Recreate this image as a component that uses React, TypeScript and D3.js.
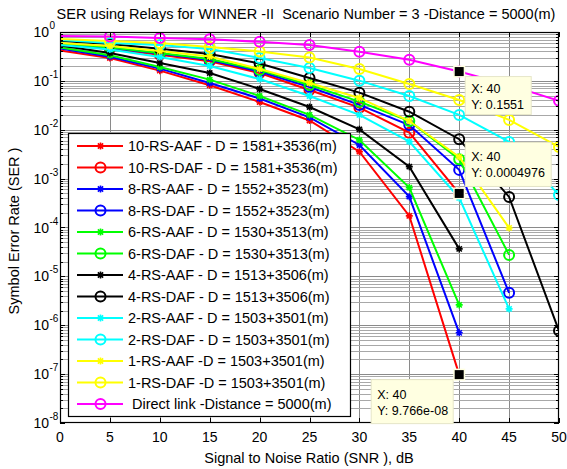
import React from "react";
import * as d3 from "d3";

const snr = [0, 5, 10, 15, 20, 25, 30, 35, 40, 45, 50];

const rs10AAF = [0.419, 0.294, 0.162, 0.0813, 0.037, 0.0155, 0.00356, 1.73e-4, 9.766e-8];
const rs10DAF = [0.55, 0.449, 0.343, 0.252, 0.145, 0.0652, 0.0283, 0.00873, 4.976e-4];
const rs8AAF = [0.46, 0.313, 0.178, 0.0906, 0.0437, 0.0179, 0.00489, 4.28e-4, 7.0e-7];
const rs8DAF = [0.568, 0.471, 0.363, 0.267, 0.156, 0.075, 0.0322, 0.0125, 0.00151, 4.6e-6];
const rs6AAF = [0.482, 0.334, 0.192, 0.106, 0.0491, 0.0201, 0.00618, 6.55e-4, 2.61e-6];
const rs6DAF = [0.582, 0.482, 0.372, 0.281, 0.167, 0.0824, 0.0376, 0.0151, 0.00249, 2.75e-5];
const rs4AAF = [0.53, 0.372, 0.232, 0.145, 0.0683, 0.0292, 0.0102, 0.00176, 3.65e-5];
const rs4DAF = [0.655, 0.568, 0.455, 0.355, 0.227, 0.1146, 0.0574, 0.0234, 0.0064, 4.22e-4, 7.7e-7];
const rs2AAF = [0.542, 0.439, 0.308, 0.202, 0.109, 0.0491, 0.0201, 0.00571, 4.03e-4, 2.16e-6];
const rs2DAF = [0.686, 0.596, 0.542, 0.449, 0.294, 0.184, 0.101, 0.0491, 0.0201, 0.00564, 4.64e-4];
const rs1AAF = [0.596, 0.517, 0.409, 0.315, 0.175, 0.0906, 0.0447, 0.0151, 0.00278, 9.8e-5];
const rs1DAF = [0.72, 0.655, 0.596, 0.493, 0.4, 0.3, 0.175, 0.0865, 0.0407, 0.0159, 0.00445];
const directLink = [0.83, 0.81, 0.75, 0.71, 0.63, 0.54, 0.395, 0.27, 0.1551, 0.082, 0.039];

const seriesLabels = [
  "10-RS-AAF - D = 1581+3536(m)",
  "10-RS-DAF - D = 1581+3536(m)",
  "8-RS-AAF - D = 1552+3523(m)",
  "8-RS-DAF - D = 1552+3523(m)",
  "6-RS-AAF - D = 1530+3513(m)",
  "6-RS-DAF - D = 1530+3513(m)",
  "4-RS-AAF - D = 1513+3506(m)",
  "4-RS-DAF - D = 1513+3506(m)",
  "2-RS-AAF - D = 1503+3501(m)",
  "2-RS-DAF - D = 1503+3501(m)",
  "1-RS-AAF -D = 1503+3501(m)",
  "1-RS-DAF -D = 1503+3501(m)",
  " Direct link -Distance = 5000(m)",
];
const seriesValues = [rs10AAF, rs10DAF, rs8AAF, rs8DAF, rs6AAF, rs6DAF, rs4AAF, rs4DAF, rs2AAF, rs2DAF, rs1AAF, rs1DAF, directLink];
const seriesColors = ["#ff0000", "#ff0000", "#0000ff", "#0000ff", "#00ff00", "#00ff00", "#000000", "#000000", "#00ffff", "#00ffff", "#ffff00", "#ffff00", "#ff00ff"];
const seriesMarkers = ["star", "circle", "star", "circle", "star", "circle", "star", "circle", "star", "circle", "star", "circle", "circle"];

const xTicks = [0, 5, 10, 15, 20, 25, 30, 35, 40, 45, 50];
const yExponents = [0, -1, -2, -3, -4, -5, -6, -7, -8];

const titleText = "SER using Relays for WINNER -II  Scenario Number = 3 -Distance = 5000(m)";
const xLabel = "Signal to Noise Ratio (SNR ), dB";
const yLabel = "Symbol Error Rate (SER )";

const dataTips = [
  { x: 40, y: 0.1551, text: "0.1551", dx: 6, dy: 5, w: 66, h: 38 },
  { x: 40, y: 4.976e-4, text: "0.0004976", dx: 6, dy: -51, w: 86, h: 44 },
  { x: 40, y: 9.766e-8, text: "9.766e-08", dx: -88, dy: 5, w: 82, h: 44 },
];

const W = 567;
const H = 469;
const left = 60;
const right = 559;
const top = 32;
const bottom = 423;
const font = "'Liberation Sans', Arial, sans-serif";

function Marker({ type, cx, cy, color }: { type: string; cx: number; cy: number; color: string }) {
  if (type === "circle") {
    return <circle cx={cx} cy={cy} r={5} fill="none" stroke={color} strokeWidth={2} />;
  }
  const s = 3.5;
  const d2 = s * 0.75;
  const p = `M${cx - s},${cy}L${cx + s},${cy}M${cx},${cy - s}L${cx},${cy + s}M${cx - d2},${cy - d2}L${cx + d2},${cy + d2}M${cx - d2},${cy + d2}L${cx + d2},${cy - d2}`;
  return <path d={p} stroke={color} strokeWidth={1.6} fill="none" />;
}

export default function App() {
  const x = d3.scaleLinear().domain([0, 50]).range([left, right]);
  const y = d3.scaleLog().domain([1e-8, 1]).range([bottom, top]);
  const line = d3
    .line<[number, number]>()
    .x((d) => x(d[0]))
    .y((d) => y(d[1]));

  const minorVals: number[] = [];
  for (let e = -8; e < 0; e++) {
    for (let m = 2; m <= 9; m++) minorVals.push(m * Math.pow(10, e));
  }
  const crisp = (v: number) => Math.round(v) + 0.5;

  const legX = 68;
  const legY = 133;
  const legW = 282;
  const legH = 283;
  const rowH = 21.5;

  return (
    <svg width={W} height={H} style={{ position: "absolute", left: 0, top: 0, background: "#fff" }} fontFamily={font}>
      <defs>
        <clipPath id="plotclip">
          <rect x={left} y={top} width={right - left} height={bottom - top} />
        </clipPath>
      </defs>
      <rect x={0} y={0} width={W} height={H} fill="#fff" />
      {/* grid */}
      <g stroke="#8a8a8a" strokeWidth={1} shapeRendering="crispEdges">
        {xTicks.slice(1, -1).map((t) => (
          <line key={"gx" + t} x1={crisp(x(t))} x2={crisp(x(t))} y1={top} y2={bottom} />
        ))}
        {yExponents.slice(1, -1).map((e) => (
          <line key={"gy" + e} x1={left} x2={right} y1={crisp(y(Math.pow(10, e)))} y2={crisp(y(Math.pow(10, e)))} />
        ))}
      </g>
      <g stroke="#a8a8a8" strokeWidth={1} shapeRendering="crispEdges">
        {minorVals.map((v, i) => (
          <line key={"gm" + i} x1={left} x2={right} y1={crisp(y(v))} y2={crisp(y(v))} />
        ))}
      </g>
      {/* series */}
      <g clipPath="url(#plotclip)">
        {seriesValues.map((vals, i) => {
          const pts: [number, number][] = vals.map((v, j) => [snr[j], v]);
          return (
            <g key={"s" + i}>
              <path d={line(pts) || ""} fill="none" stroke={seriesColors[i]} strokeWidth={2} />
              {pts
                .filter((p) => p[0] > 0)
                .map((p, j) => (
                  <Marker key={j} type={seriesMarkers[i]} cx={x(p[0])} cy={y(p[1])} color={seriesColors[i]} />
                ))}
            </g>
          );
        })}
      </g>
      {/* axes box */}
      <rect x={left + 0.5} y={top + 0.5} width={right - left - 1} height={bottom - top - 1} fill="none" stroke="#000" strokeWidth={1.2} />
      {/* ticks */}
      <g stroke="#000" strokeWidth={1} shapeRendering="crispEdges">
        {xTicks.map((t) => (
          <g key={"xt" + t}>
            <line x1={crisp(x(t))} x2={crisp(x(t))} y1={bottom} y2={bottom - 5} />
            <line x1={crisp(x(t))} x2={crisp(x(t))} y1={top} y2={top + 5} />
          </g>
        ))}
        {yExponents.map((e) => (
          <g key={"yt" + e}>
            <line x1={left} x2={left + 5} y1={crisp(y(Math.pow(10, e)))} y2={crisp(y(Math.pow(10, e)))} />
            <line x1={right - 5} x2={right} y1={crisp(y(Math.pow(10, e)))} y2={crisp(y(Math.pow(10, e)))} />
          </g>
        ))}
        {minorVals.map((v, i) => (
          <g key={"ym" + i}>
            <line x1={left} x2={left + 3} y1={crisp(y(v))} y2={crisp(y(v))} />
            <line x1={right - 3} x2={right} y1={crisp(y(v))} y2={crisp(y(v))} />
          </g>
        ))}
      </g>
      {/* tick labels */}
      <g fontSize={14} fill="#000">
        {xTicks.map((t) => (
          <text key={"xl" + t} x={x(t)} y={442} textAnchor="middle">
            {t}
          </text>
        ))}
        {yExponents.map((e) => (
          <g key={"yl" + e}>
            <text x={49} y={y(Math.pow(10, e)) + 5} textAnchor="end">
              10
            </text>
            <text x={49.5} y={y(Math.pow(10, e)) - 3} fontSize={10} textAnchor="start">
              {e}
            </text>
          </g>
        ))}
      </g>
      {/* titles */}
      <text x={306} y={18.5} fontSize={14.5} textAnchor="middle" fill="#000" style={{ whiteSpace: "pre" }}>
        {titleText}
      </text>
      <text x={309} y={463} fontSize={14.5} textAnchor="middle" fill="#000">
        {xLabel}
      </text>
      <text transform={`translate(19,231) rotate(-90)`} fontSize={14.5} textAnchor="middle" fill="#000">
        {yLabel}
      </text>
      {/* legend */}
      <g>
        <rect x={legX + 0.5} y={legY + 0.5} width={legW} height={legH} fill="#fff" stroke="#000" strokeWidth={1.2} />
        {seriesLabels.map((lab, i) => {
          const cy = legY + 13 + i * rowH;
          return (
            <g key={"lg" + i}>
              <line x1={77} x2={123} y1={cy} y2={cy} stroke={seriesColors[i]} strokeWidth={2} />
              <Marker type={seriesMarkers[i]} cx={100.5} cy={cy} color={seriesColors[i]} />
              <text x={128} y={cy + 5} fontSize={14.5} fill="#000" style={{ whiteSpace: "pre" }}>
                {lab}
              </text>
            </g>
          );
        })}
      </g>
      {/* data tips */}
      {dataTips.map((t, i) => {
        const px = x(t.x);
        const py = y(t.y);
        const bx = px + t.dx;
        const by = py + t.dy;
        return (
          <g key={"dt" + i}>
            <rect x={bx} y={by} width={t.w} height={t.h} fill="#ffffe1" stroke="#e6e6c8" strokeWidth={1} />
            <text x={bx + 6} y={by + t.h / 2 - 3} fontSize={12.5} fill="#000">
              X: {t.x}
            </text>
            <text x={bx + 6} y={by + t.h / 2 + 13} fontSize={12.5} fill="#000">
              Y: {t.text}
            </text>
            <rect x={px - 6} y={py - 6} width={12} height={12} fill="#ffffe1" />
            <rect x={px - 4.5} y={py - 4.5} width={9} height={9} fill="#000" />
          </g>
        );
      })}
    </svg>
  );
}
